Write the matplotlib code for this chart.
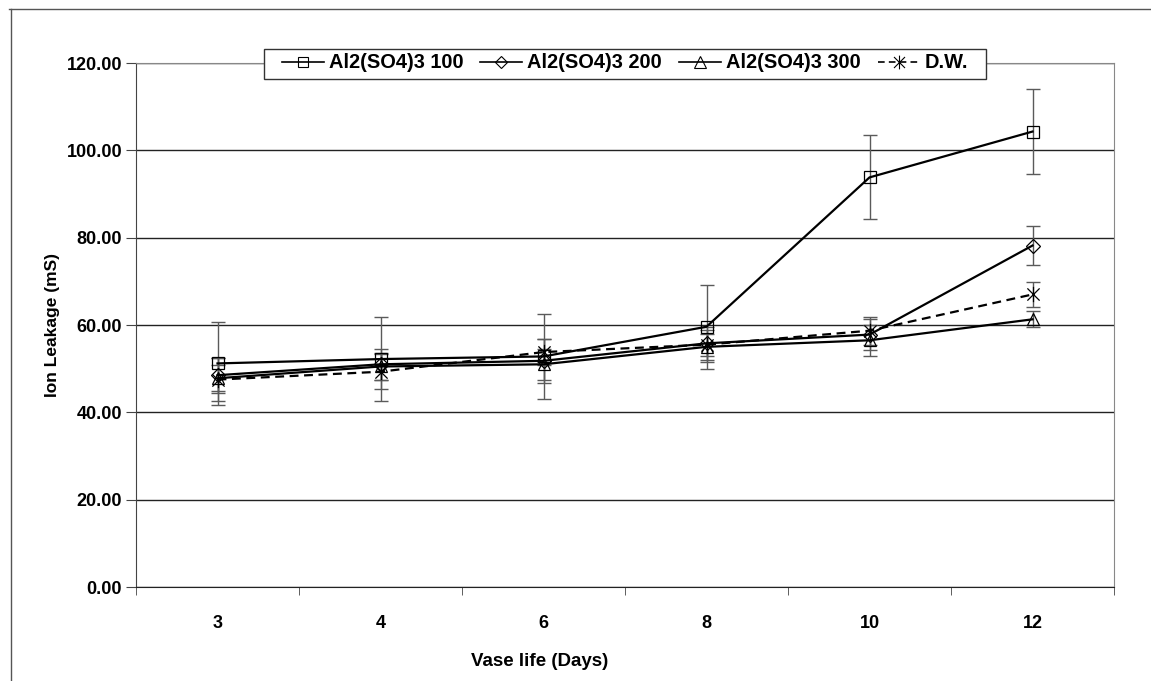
import matplotlib.pyplot as plt
from matplotlib.path import Path
from matplotlib.lines import Line2D
from matplotlib.patches import Rectangle
import numpy as np

# valores
dias = ['3', '4', '6', '8', '10', '12']
al100 = [51.2, 52.2, 52.8, 59.6, 93.8, 104.3]
al100_err = [9.6, 9.6, 9.7, 9.6, 9.6, 9.8]
al200 = [48.5, 51.0, 51.8, 55.8, 57.8, 78.2]
al200_err = [4.0, 3.5, 5.0, 3.0, 3.5, 4.4]
al300 = [47.8, 50.5, 51.0, 55.0, 56.5, 61.3]
al300_err = [3.0, 3.0, 3.5, 3.0, 3.5, 1.8]
dw = [47.5, 49.3, 53.8, 55.5, 58.7, 67.0]
dw_err = [5.0, 4.0, 3.0, 4.0, 3.2, 2.8]
etiquetas = ['Al2(SO4)3 100', 'Al2(SO4)3 200', 'Al2(SO4)3 300', 'D.W.']

plt.rcParams['font.family'] = ['Liberation Sans', 'DejaVu Sans']

# marcador tipo "estrella" de Excel: X con barra vertical
estrella = Path([(0, 1), (0, -1), (-0.8, 0.8), (0.8, -0.8), (-0.8, -0.8), (0.8, 0.8)],
                [Path.MOVETO, Path.LINETO, Path.MOVETO, Path.LINETO, Path.MOVETO, Path.LINETO])

W, H = 1151, 681
fig = plt.figure(figsize=(W / 100, H / 100), dpi=100)
ax = fig.add_axes([136 / W, 1 - 587 / H, 978 / W, 524 / H])

x = np.arange(len(dias))
series = [
    (al100, al100_err, 's', 8.5, '-'),
    (al200, al200_err, 'D', 7, '-'),
    (al300, al300_err, '^', 9, '-'),
    (dw, dw_err, estrella, 11, (0, (4, 2.5))),
]

for (y, e, m, ms, ls) in series:
    ax.errorbar(x, y, yerr=e, fmt='none', ecolor='#5a5a5a', elinewidth=1,
                capsize=5, capthick=1, zorder=2)
for (y, e, m, ms, ls) in series:
    ax.plot(x, y, color='black', linestyle=ls, linewidth=1.6, marker=m,
            markersize=ms, markerfacecolor='none', markeredgecolor='black',
            markeredgewidth=0.9, zorder=3)

ax.set_xlim(-0.5, len(dias) - 0.5)
ax.set_ylim(0, 120)
ax.set_yticks(np.arange(0, 121, 20))
ax.set_yticklabels([f'{v:.2f}' for v in range(0, 121, 20)])
ax.set_xticks(x)
ax.set_xticklabels(dias)
ax.set_xticks(np.arange(-0.5, len(dias)), minor=True)
ax.tick_params(axis='x', which='major', length=0, pad=20)
ax.tick_params(axis='x', which='minor', length=6, direction='out', color='#444444')
ax.tick_params(axis='y', length=7, direction='out', pad=3, color='#444444')
for lbl in ax.get_xticklabels() + ax.get_yticklabels():
    lbl.set_fontweight('bold')
    lbl.set_fontsize(13)

ax.grid(axis='y', color='#222222', linewidth=1)
ax.set_axisbelow(True)
for lado in ['top', 'right']:
    ax.spines[lado].set_color('#888888')
ax.spines['left'].set_color('#444444')
ax.spines['bottom'].set_color('#222222')

# en el original el título del eje X queda bajo la categoría "6"
ax.set_xlabel('Vase life (Days)', fontsize=13.5, fontweight='bold')
ax.xaxis.set_label_coords((540 - 136) / 978, -0.126)
ax.set_ylabel('Ion Leakage (mS)', fontsize=12.5, fontweight='bold', labelpad=5)

# leyenda
manejadores = []
for (y, e, m, ms, ls), et in zip(series, etiquetas):
    manejadores.append(Line2D([0], [0], color='black', linestyle=ls, linewidth=1.2,
                              marker=m, markersize=ms * 0.9, markerfacecolor='none',
                              markeredgecolor='black', markeredgewidth=0.8, label=et))
leg = ax.legend(handles=manejadores, loc='center', bbox_to_anchor=(0.5, 1.0),
                ncol=4, frameon=False, prop={'size': 14.4, 'weight': 'bold'},
                handlelength=2.1, handletextpad=0.25, columnspacing=0.85,
                borderpad=0.2, borderaxespad=0)
leg.set_zorder(5)

fig.canvas.draw()
bb = leg.get_window_extent()
marco = Rectangle((bb.x0 - 14, H - 79), bb.width + 28, 30,
                  transform=None, facecolor='white', edgecolor='#333333',
                  linewidth=1, zorder=4)
fig.add_artist(marco)
leg.remove()
fig.add_artist(leg)

# marco de la figura
fig.add_artist(Line2D([9 / W, 1], [1 - 9 / H, 1 - 9 / H], color='#555555', linewidth=1))
fig.add_artist(Line2D([11 / W, 11 / W], [0, 1 - 9 / H], color='#555555', linewidth=1))

fig.savefig('out.png', dpi=100)
plt.close()
